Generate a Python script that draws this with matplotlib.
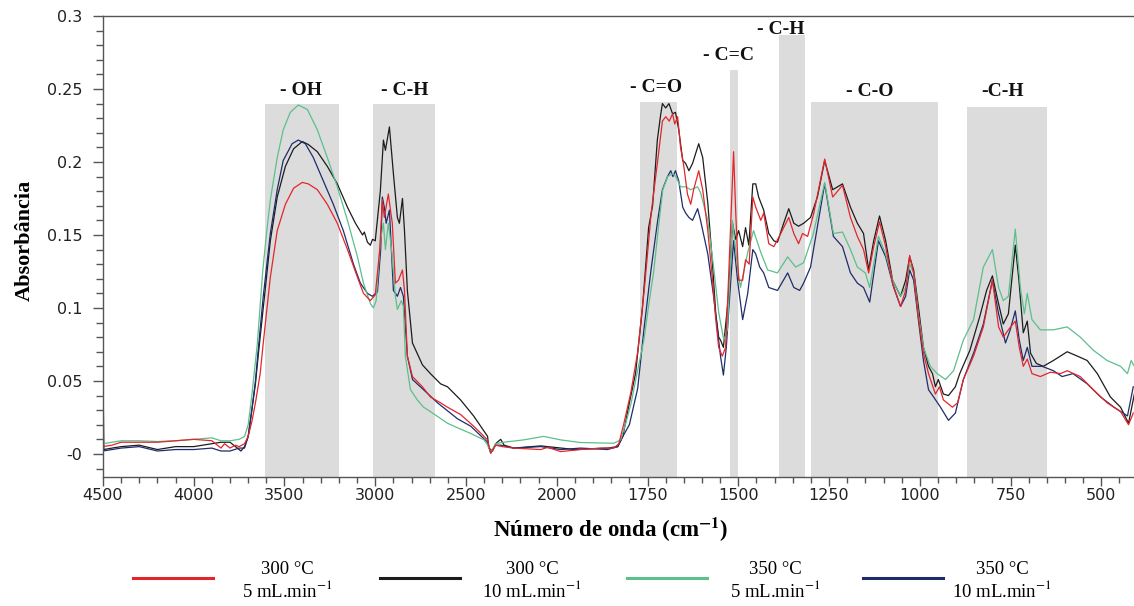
import numpy as np
import matplotlib.pyplot as plt
from matplotlib.lines import Line2D

plt.rcParams['mathtext.fontset'] = 'stix'

# ---- spectra (wavenumber cm-1, absorbance) ----
wn_black = [4500, 4495, 4450, 4400, 4300, 4200, 4100, 4000, 3900, 3850, 3800, 3760, 3740, 3720, 3700,
            3680, 3660, 3645, 3617, 3578, 3540, 3495, 3450, 3402, 3369, 3319, 3264, 3209, 3153, 3109,
            3070, 3060, 3043, 3027, 3015, 3000, 2972, 2955, 2944, 2922, 2900, 2878, 2867, 2850, 2839,
            2823, 2795, 2740, 2696, 2640, 2602, 2530, 2458, 2381, 2375, 2354, 2337, 2309, 2290, 2237,
            2088, 2050, 1950, 1860, 1832, 1818, 1800, 1783, 1764, 1747, 1736, 1723, 1714, 1709, 1700,
            1691, 1681, 1673, 1664, 1653, 1645, 1636, 1626, 1609, 1598, 1584, 1571, 1562, 1554, 1549,
            1541, 1527, 1516, 1507, 1499, 1488, 1480, 1471, 1460, 1452, 1444, 1430, 1416, 1402, 1392,
            1375, 1361, 1347, 1334, 1320, 1301, 1282, 1262, 1240, 1213, 1191, 1172, 1155, 1141, 1127,
            1111, 1094, 1075, 1053, 1039, 1028, 1017, 1004, 990, 976, 965, 957, 949, 935, 921,
            902, 890, 862, 835, 816, 800, 785, 770, 756, 737, 727, 715, 704, 695, 679,
            660, 632, 594, 566, 539, 511, 475, 447, 425, 409]
ab_black = [0.055, 0.003, 0.004, 0.005, 0.006, 0.003, 0.005, 0.005, 0.007, 0.008, 0.008, 0.004, 0.002, 0.005, 0.012,
            0.030, 0.048, 0.067, 0.100, 0.146, 0.176, 0.197, 0.209, 0.214, 0.212, 0.207, 0.197, 0.185, 0.169, 0.158,
            0.150, 0.152, 0.145, 0.143, 0.147, 0.146, 0.180, 0.215, 0.208, 0.224, 0.192, 0.162, 0.158, 0.175, 0.153,
            0.112, 0.076, 0.061, 0.055, 0.048, 0.046, 0.037, 0.026, 0.012, 0.004, 0.002, 0.007, 0.010, 0.006, 0.004,
            0.0055, 0.005, 0.003, 0.004, 0.005, 0.012, 0.035, 0.055, 0.100, 0.155, 0.170, 0.215, 0.232, 0.240, 0.237,
            0.240, 0.233, 0.234, 0.222, 0.201, 0.199, 0.194, 0.199, 0.2125, 0.203, 0.172, 0.130, 0.096, 0.080, 0.078,
            0.073, 0.108, 0.158, 0.147, 0.153, 0.142, 0.155, 0.143, 0.185, 0.185, 0.176, 0.167, 0.151, 0.146, 0.145,
            0.158, 0.168, 0.158, 0.156, 0.158, 0.162, 0.176, 0.201, 0.181, 0.185, 0.169, 0.158, 0.151, 0.126, 0.146,
            0.163, 0.146, 0.119, 0.108, 0.119, 0.135, 0.126, 0.101, 0.073, 0.060, 0.055, 0.046, 0.051, 0.041, 0.040,
            0.046, 0.055, 0.071, 0.094, 0.112, 0.122, 0.105, 0.089, 0.096, 0.143, 0.119, 0.083, 0.091, 0.069, 0.062,
            0.060, 0.064, 0.070, 0.067, 0.064, 0.055, 0.039, 0.032, 0.021, 0.041]

wn_red = [4500, 4450, 4400, 4300, 4200, 4100, 4000, 3900, 3870, 3850, 3830, 3800, 3770, 3750, 3720,
          3700, 3680, 3660, 3634, 3617, 3578, 3540, 3495, 3450, 3402, 3369, 3319, 3264, 3209, 3153,
          3098, 3065, 3027, 3000, 2975, 2961, 2950, 2928, 2906, 2889, 2872, 2850, 2839, 2823, 2795,
          2740, 2696, 2640, 2602, 2530, 2458, 2381, 2364, 2337, 2300, 2237, 2088, 2050, 1989, 1934,
          1879, 1843, 1829, 1815, 1796, 1777, 1758, 1740, 1721, 1709, 1700, 1690, 1681, 1675, 1667,
          1659, 1650, 1640, 1631, 1623, 1609, 1598, 1584, 1571, 1562, 1554, 1544, 1535, 1527, 1513,
          1507, 1499, 1488, 1480, 1470, 1460, 1452, 1438, 1430, 1416, 1402, 1383, 1361, 1347, 1334,
          1323, 1309, 1292, 1262, 1240, 1213, 1191, 1172, 1155, 1141, 1127, 1111, 1094, 1075, 1053,
          1039, 1028, 1017, 1004, 990, 976, 957, 946, 935, 910, 896, 880, 852, 825, 800,
          783, 770, 756, 737, 726, 715, 704, 691, 668, 640, 613, 594, 558, 522, 484,
          447, 425, 412]
ab_red = [0.005, 0.006, 0.008, 0.008, 0.008, 0.009, 0.010, 0.009, 0.006, 0.004, 0.007, 0.004, 0.006, 0.005, 0.007,
          0.012, 0.022, 0.035, 0.055, 0.076, 0.121, 0.153, 0.171, 0.182, 0.186, 0.185, 0.181, 0.171, 0.158, 0.140,
          0.121, 0.110, 0.105, 0.109, 0.140, 0.174, 0.162, 0.178, 0.158, 0.117, 0.119, 0.126, 0.112, 0.067, 0.053,
          0.046, 0.039, 0.035, 0.032, 0.027, 0.019, 0.0096, 0.0005, 0.006, 0.005, 0.004, 0.003, 0.0045, 0.0016, 0.003,
          0.004, 0.004, 0.007, 0.021, 0.042, 0.070, 0.115, 0.165, 0.203, 0.228, 0.231, 0.228, 0.233, 0.226, 0.231,
          0.210, 0.197, 0.178, 0.171, 0.181, 0.194, 0.181, 0.153, 0.119, 0.092, 0.073, 0.067, 0.073, 0.119, 0.207,
          0.165, 0.119, 0.119, 0.133, 0.130, 0.176, 0.169, 0.160, 0.165, 0.144, 0.142, 0.151, 0.162, 0.151, 0.144,
          0.151, 0.149, 0.165, 0.202, 0.176, 0.184, 0.162, 0.149, 0.140, 0.124, 0.142, 0.159, 0.142, 0.117, 0.101,
          0.112, 0.136, 0.124, 0.094, 0.069, 0.055, 0.041, 0.046, 0.037, 0.032, 0.035, 0.051, 0.067, 0.087, 0.119,
          0.087, 0.080, 0.085, 0.091, 0.073, 0.060, 0.065, 0.055, 0.053, 0.056, 0.055, 0.057, 0.053, 0.044, 0.035,
          0.029, 0.020, 0.028]

wn_green = [4500, 4450, 4400, 4300, 4200, 4100, 4000, 3900, 3850, 3800, 3750, 3720, 3700, 3680, 3650,
            3620, 3600, 3578, 3540, 3507, 3468, 3424, 3374, 3319, 3264, 3209, 3153, 3098, 3065, 3027,
            3010, 2995, 2972, 2955, 2944, 2928, 2910, 2889, 2878, 2856, 2845, 2834, 2806, 2768, 2734,
            2696, 2602, 2530, 2474, 2400, 2381, 2364, 2337, 2293, 2183, 2072, 1989, 1934, 1843, 1824,
            1810, 1795, 1775, 1760, 1745, 1733, 1720, 1708, 1695, 1681, 1672, 1659, 1645, 1631, 1612,
            1604, 1584, 1568, 1554, 1540, 1530, 1516, 1502, 1494, 1474, 1458, 1438, 1419, 1392, 1364,
            1342, 1320, 1293, 1262, 1238, 1213, 1191, 1172, 1150, 1138, 1114, 1094, 1075, 1053, 1039,
            1028, 1017, 1004, 990, 971, 952, 929, 907, 880, 852, 825, 800, 783, 770, 756,
            737, 723, 712, 704, 691, 668, 632, 594, 558, 522, 484, 447, 428, 418, 409]
ab_green = [0.007, 0.008, 0.009, 0.009, 0.0085, 0.009, 0.010, 0.011, 0.009, 0.009, 0.010, 0.012, 0.020, 0.040, 0.075,
            0.125, 0.150, 0.174, 0.203, 0.222, 0.234, 0.239, 0.236, 0.222, 0.203, 0.183, 0.160, 0.135, 0.117, 0.103,
            0.100, 0.105, 0.146, 0.158, 0.140, 0.158, 0.140, 0.108, 0.099, 0.105, 0.101, 0.067, 0.044, 0.037, 0.032,
            0.029, 0.021, 0.017, 0.014, 0.0096, 0.006, 0.001, 0.007, 0.008, 0.0096, 0.012, 0.0096, 0.0078, 0.0073, 0.0096,
            0.021, 0.035, 0.060, 0.078, 0.105, 0.125, 0.155, 0.181, 0.190, 0.192, 0.190, 0.183, 0.183, 0.181, 0.183,
            0.179, 0.160, 0.128, 0.097, 0.078, 0.085, 0.160, 0.128, 0.114, 0.138, 0.153, 0.138, 0.126, 0.124, 0.135,
            0.128, 0.131, 0.151, 0.186, 0.151, 0.152, 0.140, 0.128, 0.124, 0.114, 0.149, 0.137, 0.119, 0.108, 0.114,
            0.130, 0.124, 0.096, 0.073, 0.060, 0.055, 0.051, 0.057, 0.078, 0.092, 0.128, 0.140, 0.114, 0.105, 0.108,
            0.154, 0.114, 0.096, 0.110, 0.092, 0.085, 0.085, 0.087, 0.080, 0.071, 0.064, 0.060, 0.055, 0.064, 0.060]

wn_blue = [4500, 4450, 4400, 4300, 4200, 4100, 4000, 3900, 3850, 3800, 3750, 3720, 3700, 3680, 3660,
           3645, 3617, 3578, 3540, 3507, 3458, 3424, 3385, 3341, 3286, 3231, 3176, 3120, 3082, 3043,
           3016, 2988, 2970, 2961, 2950, 2940, 2922, 2900, 2878, 2861, 2845, 2823, 2795, 2734, 2657,
           2546, 2474, 2381, 2364, 2337, 2310, 2237, 2088, 1989, 1934, 1860, 1832, 1818, 1800, 1777,
           1760, 1741, 1722, 1709, 1695, 1686, 1680, 1673, 1664, 1653, 1645, 1636, 1626, 1612, 1604,
           1584, 1568, 1554, 1549, 1541, 1533, 1522, 1513, 1502, 1488, 1474, 1460, 1452, 1441, 1430,
           1416, 1392, 1364, 1347, 1331, 1320, 1301, 1262, 1238, 1213, 1191, 1172, 1155, 1138, 1114,
           1094, 1072, 1053, 1039, 1028, 1017, 1004, 990, 976, 962, 943, 921, 902, 880, 852,
           825, 800, 783, 764, 751, 737, 726, 715, 704, 691, 663, 632, 608, 578, 539,
           502, 465, 428, 412]
ab_blue = [0.002, 0.003, 0.004, 0.005, 0.002, 0.003, 0.003, 0.004, 0.002, 0.002, 0.004, 0.004, 0.012, 0.030, 0.050,
           0.071, 0.108, 0.151, 0.181, 0.201, 0.2125, 0.215, 0.2125, 0.203, 0.187, 0.171, 0.153, 0.130, 0.117, 0.110,
           0.108, 0.111, 0.140, 0.176, 0.169, 0.158, 0.167, 0.112, 0.108, 0.114, 0.108, 0.067, 0.051, 0.044, 0.035,
           0.024, 0.019, 0.008, 0.0005, 0.006, 0.006, 0.004, 0.005, 0.003, 0.004, 0.003, 0.005, 0.012, 0.020, 0.045,
           0.085, 0.125, 0.160, 0.181, 0.190, 0.194, 0.190, 0.194, 0.187, 0.169, 0.165, 0.162, 0.160, 0.168, 0.160,
           0.137, 0.108, 0.078, 0.067, 0.054, 0.073, 0.114, 0.146, 0.119, 0.092, 0.110, 0.140, 0.137, 0.128, 0.124,
           0.114, 0.112, 0.124, 0.114, 0.112, 0.117, 0.128, 0.185, 0.149, 0.142, 0.124, 0.117, 0.114, 0.104, 0.146,
           0.135, 0.114, 0.101, 0.108, 0.126, 0.119, 0.092, 0.064, 0.044, 0.039, 0.032, 0.023, 0.028, 0.051, 0.069,
           0.089, 0.119, 0.096, 0.076, 0.085, 0.098, 0.078, 0.064, 0.073, 0.060, 0.060, 0.057, 0.053, 0.055, 0.048,
           0.039, 0.032, 0.026, 0.046]

# ---- shaded band assignments ----
band_lo = [3200, 2670, 1670, 1502, 1317, 951, 649]
band_hi = [3610, 3010, 1772, 1524, 1389, 1301, 869]
band_top = [0.240, 0.240, 0.241, 0.263, 0.287, 0.241, 0.238]
band_labels = ['- OH', '- C-H', '- C=O', '- C=C', '- C-H', '- C-O', '-C-H']
label_x = [3407, 2839, 1727, 1527, 1383, 1138, 772]
label_y = [0.249, 0.249, 0.251, 0.273, 0.291, 0.248, 0.248]

series_labels = ['300 °C\n5 mL.min$^{-1}$', '300 °C\n10 mL.min$^{-1}$',
                 '350 °C\n5 mL.min$^{-1}$', '350 °C\n10 mL.min$^{-1}$']
colors = ['#e3262b', '#1c1c1c', '#5cbf8c', '#1f2c6c']


def fwd(x):
    x = np.asarray(x, dtype=float)
    return np.where(x > 2000, 2000 + (x - 2000) / 2.0, x)


def inv(u):
    u = np.asarray(u, dtype=float)
    return np.where(u > 2000, 2000 + (u - 2000) * 2.0, u)


ymin = -0.0158
fig = plt.figure(figsize=(11.34, 6.06), dpi=100)
ax = fig.add_axes([0.0908, 0.2129, 0.9092, 0.7607])
ax.set_xscale('function', functions=(fwd, inv))
ax.set_xlim(4500, 410)
ax.set_ylim(ymin, 0.3)

for lo, hi, top in zip(band_lo, band_hi, band_top):
    ax.fill_between([hi, lo], ymin, top, color='#dcdcdc', lw=0, zorder=0)
for txt, x, y in zip(band_labels, label_x, label_y):
    ax.text(x, y, txt, ha='center', va='center', family='Liberation Serif',
            weight='bold', fontsize=14, color='#111')

ax.plot(wn_black, ab_black, color=colors[1], lw=0.9, zorder=2)
ax.plot(wn_blue, ab_blue, color=colors[3], lw=0.9, zorder=2)
ax.plot(wn_green, ab_green, color=colors[2], lw=0.9, zorder=2)
ax.plot(wn_red, ab_red, color=colors[0], lw=0.9, zorder=2)

# ticks
ax.set_xticks([4500, 4000, 3500, 3000, 2500, 2000, 1750, 1500, 1250, 1000, 750, 500])
ax.set_xticks(list(range(4500, 2000, -100)) + list(range(2000, 400, -50)), minor=True)
ax.set_yticks([0, 0.05, 0.1, 0.15, 0.2, 0.25, 0.3],
              ['-0', '0.05', '0.1', '0.15', '0.2', '0.25', '0.3'])
ax.set_yticks(np.arange(-0.01, 0.3, 0.01), minor=True)
ax.tick_params(which='both', direction='out', color='#555', width=1.0,
               labelcolor='#222', labelsize=11.5)
ax.tick_params(axis='x', which='major', length=6.5, pad=1.5)
ax.tick_params(axis='x', which='minor', length=4)
ax.tick_params(axis='y', which='major', length=7, pad=8)
ax.tick_params(axis='y', which='minor', length=5)
ax.spines['right'].set_visible(False)
for s in ['left', 'top', 'bottom']:
    ax.spines[s].set_color('#555')
    ax.spines[s].set_linewidth(1.0)

fig.text(25 / 1134, 1 - 240 / 606, 'Absorbância', rotation=90, ha='center', va='center',
         family='Liberation Serif', weight='bold', fontsize=16)
fig.text(611 / 1134, 1 - 530 / 606, r'Número de onda (cm$^{\mathbf{-1}}$)', ha='center', va='center',
         family='Liberation Serif', weight='bold', fontsize=16.5)

# legend drawn under the axes
handle_x0 = [133, 380, 627, 863]
text_x = [287, 532, 775, 1002]
W, H = 1134.0, 606.0
for c, lab, hx, tx in zip(colors, series_labels, handle_x0, text_x):
    fig.add_artist(Line2D([hx / W, (hx + 80) / W], [1 - 578 / H, 1 - 578 / H], color=c, lw=2.2))
    fig.text(tx / W, 1 - 581 / H, lab, ha='center', va='center', multialignment='center',
             family='Liberation Serif', fontsize=13.5, linespacing=1.1)

fig.savefig('out.png', dpi=100)
